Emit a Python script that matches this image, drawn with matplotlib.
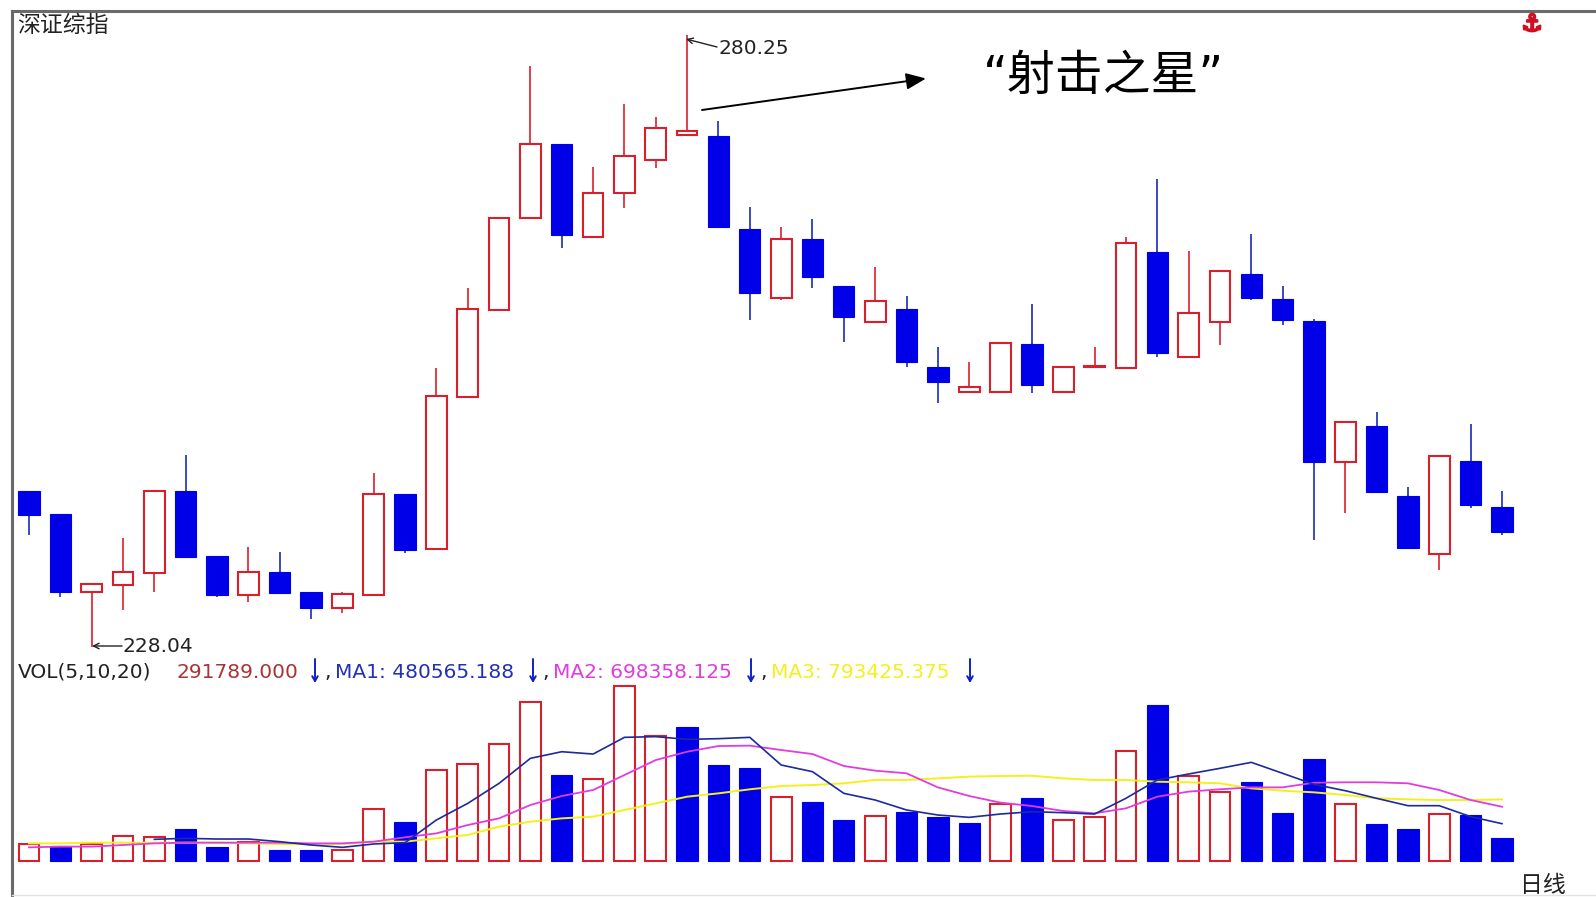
import numpy as np
import matplotlib
matplotlib.use("Agg")
import matplotlib.pyplot as plt
import matplotlib.patheffects as pe

# =========================================================
# DATA
# =========================================================

OPEN = [241.37, 239.41, 232.75, 233.35, 234.35, 241.37, 235.82, 232.49, 234.43, 232.72,
        231.36, 232.49, 241.11, 236.37, 249.39, 256.79, 264.61, 270.95, 263.04, 266.74,
        269.58, 271.72, 271.66, 263.70, 257.84, 262.84, 258.86, 255.79, 256.87, 251.90,
        249.81, 249.81, 253.88, 249.81, 251.90, 251.86, 261.71, 252.80, 255.79, 259.86,
        257.72, 255.87, 243.84, 246.91, 240.94, 235.94, 243.93, 239.95]

CLOSE = [239.29, 232.75, 233.41, 234.41, 241.37, 235.74, 232.44, 234.41, 232.61, 231.33,
         232.58, 241.09, 236.31, 249.45, 256.85, 264.66, 270.92, 263.19, 266.79, 269.93,
         272.31, 272.08, 263.89, 258.21, 262.82, 259.63, 256.21, 257.55, 252.37, 250.67,
         250.19, 254.00, 250.39, 251.90, 251.98, 262.53, 253.09, 256.56, 260.11, 257.78,
         255.93, 243.84, 247.20, 241.28, 236.45, 244.35, 240.15, 237.87]

HIGH = [241.37, 239.41, 233.41, 237.31, 241.37, 244.41, 235.82, 236.59, 236.16, 232.72,
        232.75, 242.85, 241.11, 251.81, 258.64, 264.66, 277.63, 270.95, 268.96, 274.36,
        273.23, 280.25, 272.94, 265.55, 263.89, 264.55, 258.86, 260.43, 258.01, 253.60,
        252.32, 254.00, 257.30, 251.90, 253.60, 262.99, 267.96, 261.85, 260.11, 263.27,
        258.86, 256.02, 247.20, 248.06, 241.71, 244.35, 247.06, 241.37]

LOW = [237.59, 232.32, 228.04, 231.19, 232.75, 235.74, 232.32, 231.90, 232.61, 230.40,
       230.91, 232.49, 236.03, 236.37, 249.39, 256.79, 264.61, 262.05, 262.90, 265.46,
       268.88, 271.72, 263.89, 255.93, 257.64, 258.64, 254.08, 255.79, 251.95, 248.82,
       249.68, 249.81, 249.68, 249.68, 251.90, 251.86, 252.80, 252.80, 253.80, 257.64,
       255.51, 237.16, 239.44, 241.28, 236.45, 234.60, 239.87, 237.59]

# volume, thousands
VOLUME = [219, 197, 219, 326, 305, 416, 185, 240, 142, 142,
          142, 665, 506, 1167, 1249, 1506, 2043, 1103, 1056, 2257,
          1613, 1729, 1236, 1193, 820, 764, 528, 584, 635, 571,
          485, 734, 807, 524, 562, 1420, 2008, 1098, 884, 1017,
          614, 1317, 734, 481, 416, 605, 588, 291.789]

# volume bars are not always coloured like their candle
VOLUME_DOWN = [1, 5, 6, 8, 9, 12, 17, 21, 22, 23, 25, 26, 28, 29, 30, 32,
               36, 39, 40, 41, 43, 44, 46, 47]

MA1_START = 4
MA1 = [279, 292, 283, 283, 249, 206, 176, 219, 236, 528,
       742, 1000, 1322, 1407, 1377, 1592, 1601, 1566, 1575, 1592,
       1236, 1150, 871, 785, 657, 592, 562, 605, 635, 622,
       605, 807, 1043, 1120, 1193, 1270, 1129, 987, 905, 807,
       712, 712, 571, 480.565]

MA2 = [176, 185, 185, 206, 227, 236, 236, 236, 236, 227,
       227, 249, 305, 356, 463, 549, 721, 837, 914, 1107,
       1300, 1407, 1480, 1485, 1429, 1377, 1223, 1163, 1129, 948,
       837, 751, 708, 644, 614, 678, 828, 893, 923, 948,
       948, 1008, 1013, 1013, 1000, 914, 785, 698.358]

MA3 = [227, 227, 236, 236, 236, 236, 236, 227, 219, 214,
       219, 249, 249, 292, 335, 442, 506, 549, 571, 657,
       742, 828, 871, 923, 965, 978, 1000, 1043, 1043, 1064,
       1086, 1094, 1098, 1064, 1043, 1043, 1021, 1013, 1000, 935,
       905, 884, 850, 807, 794, 785, 785, 793.425]

# =========================================================
# STYLE
# =========================================================

W, H = 1596, 897

RED = "#d8202c"
BLUE = "#0000e8"
WICK_BLUE = "#1a2cb4"
MA1_COLOR = "#1c2a9c"
MA2_COLOR = "#e03ce0"
MA3_COLOR = "#f4f01e"
FRAME = "#6a6a6a"

CJK = ["Noto Sans CJK SC", "DejaVu Sans"]
QUOTE_FIRST = ["DejaVu Sans", "Noto Sans CJK SC"]


def pixel_axes(fig, left, top, right, bottom):
    # axes placed by reference pixels
    ax = fig.add_axes([left / W, 1 - bottom / H, (right - left) / W, (bottom - top) / H])
    ax.axis("off")
    ax.patch.set_alpha(0)
    return ax


fig = plt.figure(figsize=(W / 100, H / 100), dpi=100, facecolor="white")

x = np.arange(len(OPEN))
xlim = (-29 / 31.34, (W - 29) / 31.34)

# =========================================================
# CANDLES
# =========================================================

ax_price = pixel_axes(fig, 0, 0, W, 650)
ax_price.set_xlim(xlim)
ax_price.set_ylim(227.78, 283.24)

for i in x:
    up = CLOSE[i] >= OPEN[i]
    bottom = min(OPEN[i], CLOSE[i])
    height = abs(CLOSE[i] - OPEN[i])

    ax_price.vlines(i, LOW[i], HIGH[i], color=RED if up else WICK_BLUE, lw=1.2, zorder=1)

    if up:
        ax_price.bar(i, height, 0.66, bottom=bottom, facecolor="white",
                     edgecolor=RED, linewidth=1.5, zorder=2)
    else:
        ax_price.bar(i, height, 0.68, bottom=bottom, facecolor=BLUE,
                     edgecolor=BLUE, linewidth=0.8, zorder=2)

# =========================================================
# VOLUME
# =========================================================

ax_vol = pixel_axes(fig, 0, 670, W, 861)
ax_vol.set_xlim(xlim)
ax_vol.set_ylim(0, 2459)

for i in x:
    if i in VOLUME_DOWN:
        ax_vol.bar(i, VOLUME[i], 0.68, facecolor=BLUE, edgecolor=BLUE,
                   linewidth=0.8, zorder=2, clip_on=False)
    else:
        ax_vol.bar(i, VOLUME[i], 0.66, facecolor="white", edgecolor=RED,
                   linewidth=1.5, zorder=2, clip_on=False)

ax_vol.plot(x, MA3, color=MA3_COLOR, lw=1.4, zorder=3)
ax_vol.plot(x, MA2, color=MA2_COLOR, lw=1.3, zorder=4)
ax_vol.plot(x[MA1_START:], MA1, color=MA1_COLOR, lw=1.2, zorder=5)

# =========================================================
# OVERLAY: FRAME, LABELS, ARROWS
# =========================================================

ov = pixel_axes(fig, 0, 0, W, H)
ov.set_xlim(0, W)
ov.set_ylim(H, 0)

ov.plot([12, 12, W], [H, 11, 11], color=FRAME, lw=2.2, solid_joinstyle="miter")
ov.plot([12, W], [895.5, 895.5], color="#e2e2e2", lw=1)

ov.text(17, 25, "深证综指", family=CJK, fontsize=16.5, color="#222222", va="center")
ov.text(1520, 886, "日线", family=CJK, fontsize=16.5, color="#222222", va="center")
ov.text(1532, 24, "\u2693", family="DejaVu Sans", fontsize=17, color="#d01020",
        ha="center", va="center", fontweight="bold",
        path_effects=[pe.withStroke(linewidth=1.6, foreground="#d01020")])

ov.text(983, 76, "“射击之星”", family=QUOTE_FIRST, fontsize=34.5, color="black", va="center")
ov.annotate("", xy=(926, 78.5), xytext=(702, 110),
            arrowprops=dict(arrowstyle="-|>,head_length=1.2,head_width=0.5",
                            color="black", lw=1.4, shrinkA=0, shrinkB=0))

ov.text(718, 48, "280.25", family="DejaVu Sans", fontsize=14.5, color="#222222", va="center")
ov.annotate("", xy=(686, 39), xytext=(717, 47),
            arrowprops=dict(arrowstyle="->", color="#222222", lw=1, shrinkA=0, shrinkB=0))

ov.text(123, 647, "228.04", family="DejaVu Sans", fontsize=14.5, color="#222222", va="center")
ov.annotate("", xy=(92, 646), xytext=(122, 646),
            arrowprops=dict(arrowstyle="->", color="#222222", lw=1, shrinkA=0, shrinkB=0))

# indicator line
ov.text(18, 672, "VOL(5,10,20)", family="DejaVu Sans", fontsize=14.5, color="#222222", va="center")

readouts = [
    (176, "291789.000", "#a83434", 315, 324),
    (335, "MA1: 480565.188", "#2230b8", 533, 542),
    (553, "MA2: 698358.125", MA2_COLOR, 751, 760),
    (771, "MA3: 793425.375", MA3_COLOR, 970, None),
]

for tx, label, color, arrow_x, comma_x in readouts:
    ov.text(tx, 672, label, family="DejaVu Sans", fontsize=14.5, color=color, va="center")
    ov.annotate("", xy=(arrow_x, 683), xytext=(arrow_x, 659),
                arrowprops=dict(arrowstyle="->,head_length=0.35,head_width=0.2",
                                color="#1020c8", lw=1.4, shrinkA=0, shrinkB=0))
    if comma_x is not None:
        ov.text(comma_x, 672, ",", family="DejaVu Sans", fontsize=14.5, color="#222222", va="center")

fig.savefig("out.png", dpi=100, facecolor="white")
